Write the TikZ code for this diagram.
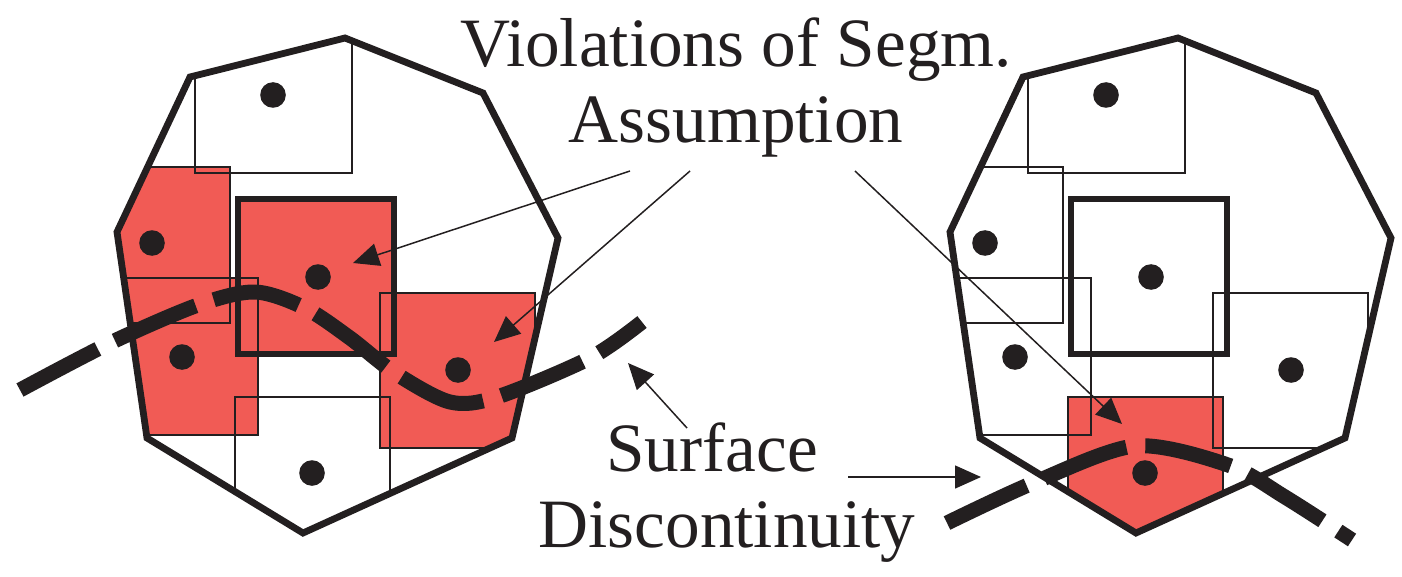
\documentclass[tikz,border=0pt]{standalone}
\usepackage{fontspec}
\setmainfont{Liberation Serif}
\usetikzlibrary{arrows.meta}
\definecolor{ink}{HTML}{231F20}
\definecolor{cellred}{HTML}{F15B55}

% outline of one region, in pixel units
\newcommand{\hullpath}{(345,38) -- (483,93) -- (558,238) -- (512,438) -- (303,533) -- (147,438) -- (117,232) -- (190,77) -- cycle}

\begin{document}
\begin{tikzpicture}[
  x=0.1mm,y=-0.1mm,
  >={Triangle[length=2.6mm,width=2.3mm]},
  hull/.style={draw=ink,line width=0.68mm,line join=miter},
  cell/.style={draw=ink,line width=0.27mm},
  keycell/.style={draw=ink,line width=0.52mm},
  shade/.style={fill=cellred},
  seed/.style={fill=ink},
  edge/.style={draw=ink,line width=1.5mm,dash pattern=on 8.8mm off 1.9mm},
  pointer/.style={->,draw=ink,line width=0.15mm},
  caption/.style={font=\fontsize{19.7}{21.6}\selectfont,text=ink,inner sep=0pt,anchor=base}
]
\useasboundingbox (0,0) rectangle (1402,577);

% Left region: four violating cells
\begin{scope}
  \begin{scope}
    \clip \hullpath;
    \fill[shade] (100,167) rectangle (230,323);
    \fill[shade] (100,278) rectangle (258,435);
    \fill[shade] (238,199) rectangle (394,354);
    \fill[shade] (380,293) rectangle (535,448);
    \draw[cell] (195,30) rectangle (352,173);
    \draw[cell] (100,167) rectangle (230,323);
    \draw[cell] (100,278) rectangle (258,435);
    \draw[cell] (380,293) rectangle (535,448);
    \draw[cell] (235,397) rectangle (390,560);
    \draw[keycell] (238,199) rectangle (394,354);
  \end{scope}
  \draw[hull] \hullpath;
  \foreach \p in {(273,95),(152,243),(318,277),(182,357),(458,370),(312,473)}
    \fill[seed] \p circle[radius=1.28mm];
\end{scope}

% Right region: one violating cell
\begin{scope}[xshift=83.3mm]
  \begin{scope}
    \clip \hullpath;
    \fill[shade] (235,397) rectangle (390,560);
    \draw[cell] (195,30) rectangle (352,173);
    \draw[cell] (100,167) rectangle (230,323);
    \draw[cell] (100,278) rectangle (258,435);
    \draw[cell] (380,293) rectangle (535,448);
    \draw[cell] (235,397) rectangle (390,560);
    \draw[keycell] (238,199) rectangle (394,354);
  \end{scope}
  \draw[hull] \hullpath;
  \foreach \p in {(273,95),(152,243),(318,277),(182,357),(458,370),(312,473)}
    \fill[seed] \p circle[radius=1.28mm];
\end{scope}

% Surface discontinuities
\draw[edge] plot[smooth] coordinates {(20,390) (110,343) (198,305) (255,292) (305,308)
  (350,338) (395,373) (450,402) (497,397) (590,358) (642,322)};
\draw[edge] plot[smooth] coordinates {(947,523) (1033,483) (1135,446) (1228,465)
  (1285,497) (1352,540)};

% Labels
\node[caption] (viol) at (736,67) {Violations of Segm.};
\node[caption] (assume) at (736,143) {Assumption};
\node[caption] (surf) at (712,471) {Surface};
\node[caption] (disc) at (727,547) {Discontinuity};

% Pointers
\coordinate (vL) at (630,171);  \coordinate (vLtip) at (353,263);
\coordinate (vM) at (690,171);  \coordinate (vMtip) at (494,342);
\coordinate (vR) at (855,171);  \coordinate (vRtip) at (1122,424);
\coordinate (sU) at (687,428);  \coordinate (sUtip) at (628,363);
\coordinate (sR) at (848,477);  \coordinate (sRtip) at (981,477);
\draw[pointer] (vL) -- (vLtip);
\draw[pointer] (vM) -- (vMtip);
\draw[pointer] (vR) -- (vRtip);
\draw[pointer] (sU) -- (sUtip);
\draw[pointer] (sR) -- (sRtip);

\end{tikzpicture}
\end{document}
